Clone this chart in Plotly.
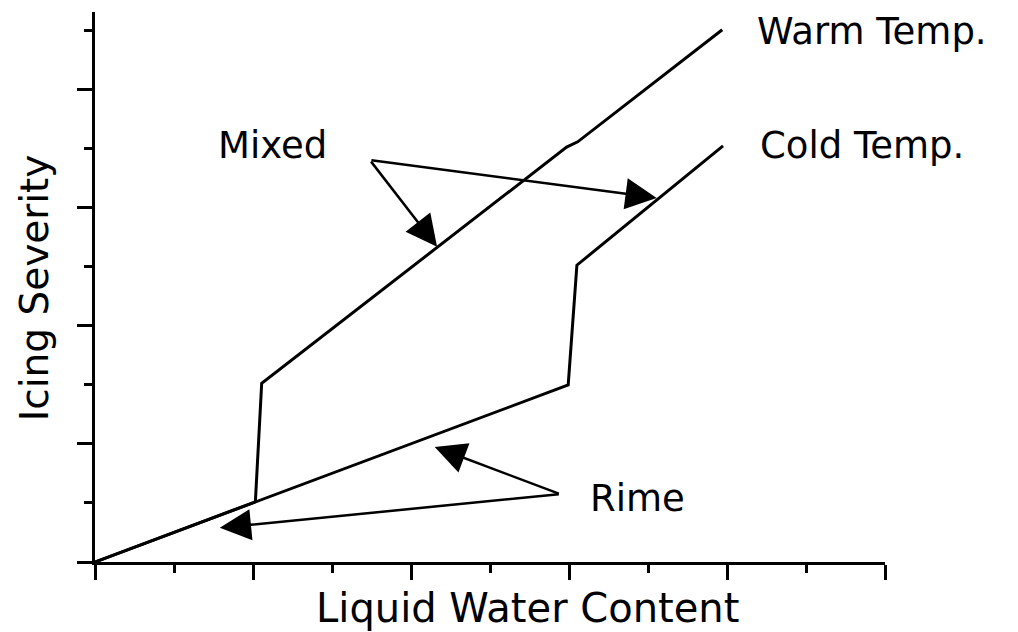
import plotly.graph_objects as go

# Data (in axis units)
warm_x = [0, 2.03, 2.11, 5.97, 6.11, 7.94]
warm_y = [0, 1.02, 3.03, 7.03, 7.12, 9.02]
cold_x = [0, 5.99, 6.10, 7.95]
cold_y = [0, 3.00, 5.03, 7.05]

# label anchor points (axis units)
labels = ["Warm Temp.", "Cold Temp.", "Mixed", "Rime"]
label_x = [8.37, 8.40, 1.54, 6.25]
label_y = [8.99, 7.05, 7.05, 1.08]

# arrows: tail (vertex) -> tip
mixed_tail = (3.48, 6.81)
mixed_tips = [(4.33, 5.34), (7.11, 6.17)]
rime_tail = (5.89, 1.15)
rime_tips = [(4.30, 1.95), (1.58, 0.58)]

FONT = "DejaVu Sans"

fig = go.Figure()
fig.add_trace(go.Scatter(x=warm_x, y=warm_y, mode="lines",
                         line=dict(color="black", width=3), showlegend=False, hoverinfo="skip"))
fig.add_trace(go.Scatter(x=cold_x, y=cold_y, mode="lines",
                         line=dict(color="black", width=3), showlegend=False, hoverinfo="skip"))

annotations = []
for t, x, y in zip(labels, label_x, label_y):
    annotations.append(dict(x=x, y=y, xref="x", yref="y", text=t, showarrow=False,
                            xanchor="left", yanchor="middle", borderpad=0,
                            font=dict(family=FONT, size=37, color="black")))

for tail, tips in [(mixed_tail, mixed_tips), (rime_tail, rime_tips)]:
    for tip in tips:
        annotations.append(dict(x=tip[0], y=tip[1], ax=tail[0], ay=tail[1],
                                xref="x", yref="y", axref="x", ayref="y",
                                text="", showarrow=True, arrowhead=2, arrowsize=2.5,
                                arrowwidth=2.5, arrowcolor="black", standoff=0, startstandoff=0))

annotations.append(dict(x=0.547, y=-0.084, xref="paper", yref="paper", text="Liquid Water Content",
                        showarrow=False, xanchor="center", yanchor="middle", borderpad=0,
                        font=dict(family=FONT, size=40, color="black")))
annotations.append(dict(x=-0.077, y=0.498, xref="paper", yref="paper", text="Icing Severity",
                        showarrow=False, xanchor="center", yanchor="middle", textangle=-90,
                        borderpad=0, font=dict(family=FONT, size=39, color="black")))

fig.update_layout(
    width=1010, height=624,
    margin=dict(l=87, r=133, t=4, b=70),
    paper_bgcolor="white", plot_bgcolor="white",
    annotations=annotations,
    xaxis=dict(range=[0, 10], showgrid=False, zeroline=False, showline=True,
               linecolor="black", linewidth=3, ticks="outside", tick0=0, dtick=2,
               ticklen=15, tickwidth=3, tickcolor="black", showticklabels=False,
               minor=dict(ticks="outside", dtick=1, tick0=0, ticklen=8, tickwidth=3,
                          tickcolor="black", showgrid=False)),
    yaxis=dict(range=[0, 9.32], showgrid=False, zeroline=False, showline=True,
               linecolor="black", linewidth=3, ticks="outside", tick0=0, dtick=2,
               ticklen=15, tickwidth=3, tickcolor="black", showticklabels=False,
               minor=dict(ticks="outside", dtick=1, tick0=0, ticklen=8, tickwidth=3,
                          tickcolor="black", showgrid=False)),
)

fig.write_html("out.html")
